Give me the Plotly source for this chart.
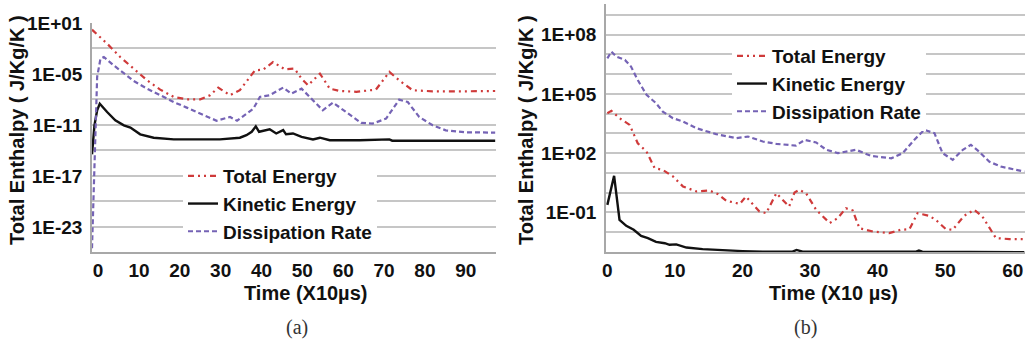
import plotly.graph_objects as go

# ---------------- data: panel (a) ----------------
a_total_t = [-1.5, 2.2, 5.4, 8.7, 12, 15.2, 18.5, 21.7, 25, 27.4, 29.4, 32.3, 34.7, 38.4, 40.4, 42.8,
             45.7, 48.1, 49.8, 51.4, 54.3, 56.7, 59.1, 63.2, 68, 71.3, 73.7, 77, 81.9, 90, 97.2]
a_total_log = [0.22, -1.43, -3.0, -4.37, -5.75, -6.84, -7.7, -7.98, -7.98, -7.5, -6.6, -7.5, -6.9, -4.57,
               -4.5, -3.6, -4.45, -4.37, -5.55, -6.33, -4.96, -6.72, -7.0, -7.1, -6.84, -4.76, -5.75,
               -6.92, -7.04, -7.04, -7.0]

a_kin_t = [-1.5, -0.9, -0.24, 0.4, 2.2, 4.2, 6.3, 7.9, 10.3, 13.6, 18.5, 25, 29.8, 34.7, 36.3, 37.6,
           38.6, 39.4, 42, 43.6, 45.3, 46, 47.7, 49.8, 52.6, 54.3, 56.7, 64, 71.3, 72, 97.2]
a_kin_log = [-14.45, -11.04, -9.27, -8.5, -9.47, -10.45, -11.04, -11.3, -12.1, -12.5, -12.7, -12.7,
             -12.7, -12.5, -12.2, -11.8, -11.16, -11.8, -11.5, -12.0, -11.6, -12.1, -12.0, -12.4,
             -12.7, -12.5, -12.8, -12.8, -12.7, -12.85, -12.85]

a_diss_t = [-1.5, -1.06, -0.65, -0.24, 0.57, 1.4, 3.8, 6.3, 8.7, 12, 15.2, 18.5, 21.7, 25, 29, 32.3,
            34, 38, 39.6, 42, 45.3, 47.3, 49.8, 52.2, 55, 57.5, 60.7, 64.4, 67.2, 70.5, 73.7, 75.8,
            78.6, 81.9, 85.1, 90, 97.2]
a_diss_log = [-25.5, -18.3, -10.06, -5.35, -3.2, -3.0, -3.98, -4.96, -5.82, -6.73, -7.55, -8.3, -8.96,
              -9.67, -10.5, -10.06, -10.5, -9.08, -7.7, -7.5, -6.6, -7.3, -6.73, -7.9, -9.27, -8.37,
              -9.47, -10.76, -10.84, -10.25, -8.02, -8.3, -10.06, -11.04, -11.63, -11.86, -11.9]

a_ticks_x = [0, 10, 20, 30, 40, 50, 60, 70, 80, 90]
a_ticks_y_exp = [1, -2, -5, -8, -11, -14, -17, -20, -23]
a_ticks_y_text = ["1E+01", "", "1E-05", "", "1E-11", "", "1E-17", "", "1E-23"]

# ---------------- data: panel (b) ----------------
b_total_t = [0, 0.6, 1.8, 3.3, 4.5, 5.8, 7, 8.2, 9.7, 11.2, 13.2, 15.1, 16.4, 17.6, 19.6, 20.5, 22.5,
             23.5, 25, 26, 26.9, 27.7, 28.4, 29.4, 30.9, 32.9, 34.1, 35.3, 36.3, 37.3, 39.3, 41.7,
             43.4, 44.7, 45.9, 47.6, 48.6, 50.1, 51.1, 52.8, 54.3, 55.5, 56.7, 57.5, 59.5, 61.7]
b_total_log = [4.02, 4.14, 3.77, 3.43, 2.5, 2.08, 1.24, 1.15, 0.82, 0.31, 0.06, 0.11, -0.08, -0.41,
               -0.57, -0.2, -0.95, -1.04, -0.03, -0.36, -0.7, 0.01, 0.14, -0.03, -0.87, -1.54, -1.29,
               -0.79, -0.9, -1.8, -1.97, -2.05, -1.88, -1.85, -1.04, -1.17, -1.38, -1.85, -1.88,
               -1.17, -0.87, -1.21, -1.88, -2.3, -2.35, -2.35]

b_kin_t = [0, 1, 1.8, 2.8, 3.9, 5, 6, 7.2, 8.5, 9.2, 10.2, 11.7, 14.1, 17.1, 20, 23, 27.4, 28, 28.9,
           45.7, 46.1, 46.6, 58, 59.5, 61.7]
b_kin_log = [-0.62, 0.85, -1.38, -1.68, -1.88, -2.19, -2.3, -2.49, -2.56, -2.64, -2.62, -2.78, -2.86,
             -2.93, -2.96, -2.99, -2.99, -2.9, -2.99, -2.99, -2.93, -2.99, -2.99, -3.02, -3.02]

b_diss_t = [0, 0.6, 1.3, 2.6, 3.5, 4.5, 5.8, 7.2, 8.2, 9.7, 11.2, 13.2, 16.1, 19.1, 20.8, 23, 25,
            27.9, 29.2, 30.9, 32.4, 34.1, 36.8, 39, 42, 43.7, 45.4, 46.9, 48.4, 49.6, 51.1, 52.6,
            53.8, 55, 56.5, 58.2, 61.7]
b_diss_log = [6.8, 7.14, 6.89, 6.72, 6.38, 5.7, 4.95, 4.53, 4.1, 3.77, 3.6, 3.26, 2.96, 2.76, 2.84,
              2.59, 2.47, 2.38, 2.67, 2.54, 2.17, 2.0, 2.17, 1.86, 1.74, 2.0, 2.67, 3.18, 3.01, 2.0,
              1.66, 2.17, 2.42, 2.08, 1.57, 1.32, 1.07]

b_ticks_x = [0, 10, 20, 30, 40, 50, 60]
b_ticks_y_exp = [9, 8, 7, 6, 5, 4, 3, 2, 1, 0, -1, -2]
b_ticks_y_text = ["", "1E+08", "", "", "1E+05", "", "", "1E+02", "", "", "1E-01", ""]

series_names = ["Total Energy", "Kinetic Energy", "Dissipation Rate"]
captions = ["(a)", "(b)"]
x_titles = ["Time (X10µs)", "Time (X10 µs)"]
y_title = "Total Enthalpy ( J/Kg/K )"

# ---------------- styles ----------------
RED = "#cf3a3a"
BLACK = "#111111"
PURPLE = "#7563b5"
GRID = "#c6c6c6"
AXIS = "#a8a8a8"
FONT = "Liberation Sans"
styles = [dict(color=RED, width=2.2, dash="6px,4px,2px,4px,2px,4px"),
          dict(color=BLACK, width=2.4),
          dict(color=PURPLE, width=2.2, dash="5px,3px")]

def pw(exps):
    return [10 ** v for v in exps]

def bold(s):
    return "<b>" + s + "</b>" if s else ""

fig = go.Figure()

panel_a = [(a_total_t, a_total_log), (a_kin_t, a_kin_log), (a_diss_t, a_diss_log)]
panel_b = [(b_total_t, b_total_log), (b_kin_t, b_kin_log), (b_diss_t, b_diss_log)]

for (t, v), name, st in zip(panel_a, series_names, styles):
    fig.add_trace(go.Scatter(x=t, y=pw(v), mode="lines", name=bold(name), line=st,
                             xaxis="x", yaxis="y", legend="legend"))
for (t, v), name, st in zip(panel_b, series_names, styles):
    fig.add_trace(go.Scatter(x=t, y=pw(v), mode="lines", name=bold(name), line=st,
                             xaxis="x2", yaxis="y2", legend="legend2"))

W, H = 1033, 345
tickfont = dict(family=FONT, size=19, color="#111111")
legfont = dict(family=FONT, size=19, color="#111111")

common_x = dict(showgrid=False, zeroline=False, showline=True, linecolor=AXIS, linewidth=1.5,
                ticks="", tickfont=tickfont, ticklabelstandoff=0)
common_y = dict(type="log", showgrid=True, gridcolor=GRID, gridwidth=1.5, zeroline=False,
                showline=True, linecolor=AXIS, linewidth=1.5, ticks="", tickfont=tickfont,
                ticklabelstandoff=4)

fig.update_layout(
    width=W, height=H,
    margin=dict(l=0, r=0, t=0, b=0, autoexpand=False),
    paper_bgcolor="white", plot_bgcolor="white",
    showlegend=True,
    xaxis=dict(domain=[92 / W, 496 / W], range=[-1.5, 97.4], tickvals=a_ticks_x,
               ticktext=[bold(str(v)) for v in a_ticks_x], anchor="y", **common_x),
    yaxis=dict(domain=[1 - 252 / H, 1 - 23 / H], range=[-25.95, 1.0], tickvals=pw(a_ticks_y_exp),
               ticktext=[bold(s) for s in a_ticks_y_text], anchor="x", **common_y),
    xaxis2=dict(domain=[606 / W, 1025 / W], range=[-0.2, 61.8], tickvals=b_ticks_x,
                ticktext=[bold(str(v)) for v in b_ticks_x], anchor="y2", **common_x),
    yaxis2=dict(domain=[1 - 252.3 / H, 1 - 4 / H], range=[-3.02, 9.55], tickvals=pw(b_ticks_y_exp),
                ticktext=[bold(s) for s in b_ticks_y_text], anchor="x2", **common_y),
    legend=dict(x=183 / W, y=1 - 157 / H, xanchor="left", yanchor="top", bgcolor="white",
                borderwidth=0, font=legfont, tracegroupgap=0),
    legend2=dict(x=732 / W, y=1 - 37 / H, xanchor="left", yanchor="top", bgcolor="white",
                 borderwidth=0, font=legfont, tracegroupgap=0),
)

ann = []
ann.append(dict(text=bold(x_titles[0]), x=305 / W, y=1 - 293 / H,
                font=dict(family=FONT, size=20, color="#111111")))
ann.append(dict(text=bold(x_titles[1]), x=833 / W, y=1 - 293 / H,
                font=dict(family=FONT, size=20, color="#111111")))
ann.append(dict(text=bold(y_title), x=17 / W, y=1 - 130 / H, textangle=-90,
                font=dict(family=FONT, size=20, color="#111111")))
ann.append(dict(text=bold(y_title), x=526 / W, y=1 - 130 / H, textangle=-90,
                font=dict(family=FONT, size=20, color="#111111")))
ann.append(dict(text=captions[0], x=297 / W, y=1 - 327 / H,
                font=dict(family="Liberation Serif", size=20, color="#333333")))
ann.append(dict(text=captions[1], x=805 / W, y=1 - 327 / H,
                font=dict(family="Liberation Serif", size=20, color="#333333")))
for a in ann:
    a.update(xref="paper", yref="paper", showarrow=False, xanchor="center", yanchor="middle")
fig.update_layout(annotations=ann)

fig.write_html("out.html")
